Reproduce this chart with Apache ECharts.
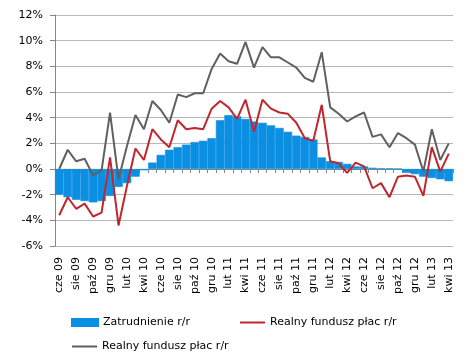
<!DOCTYPE html>
<html>
<head>
<meta charset="utf-8">
<script src="https://cdn.jsdelivr.net/npm/echarts@6/dist/echarts.min.js"></script>
<style>
html,body{margin:0;padding:0;background:#fff;}
#chart{width:468px;height:362px;}
</style>
</head>
<body>
<div id="chart"></div>
<script>
const categories = ['cze 09','lip 09','sie 09','wrz 09','paź 09','lis 09','gru 09',
  'sty 10','lut 10','mar 10','kwi 10','maj 10','cze 10','lip 10','sie 10','wrz 10','paź 10','lis 10','gru 10',
  'sty 11','lut 11','mar 11','kwi 11','maj 11','cze 11','lip 11','sie 11','wrz 11','paź 11','lis 11','gru 11',
  'sty 12','lut 12','mar 12','kwi 12','maj 12','cze 12','lip 12','sie 12','wrz 12','paź 12','lis 12','gru 12',
  'sty 13','lut 13','mar 13','kwi 13'];

const zatrudnienie = [-2.0,-2.2,-2.4,-2.5,-2.6,-2.5,-2.1,
  -1.4,-1.1,-0.6,-0.1,0.5,1.1,1.5,1.7,1.9,2.1,2.2,2.4,
  3.8,4.2,4.1,3.9,3.7,3.6,3.4,3.2,2.9,2.6,2.5,2.3,
  0.9,0.6,0.55,0.4,0.2,0.2,0.1,0.05,0.05,0.02,-0.3,-0.4,
  -0.6,-0.7,-0.8,-0.95];

const realnyRed = [-3.6,-2.2,-3.1,-2.7,-3.7,-3.4,0.9,
  -4.4,-1.3,1.6,0.7,3.1,2.3,1.7,3.8,3.1,3.2,3.1,4.7,
  5.3,4.8,3.9,5.4,2.9,5.4,4.7,4.4,4.3,3.6,2.4,2.2,
  5.0,0.6,0.45,-0.3,0.5,0.2,-1.5,-1.1,-2.2,-0.6,-0.5,-0.6,
  -2.1,1.7,-0.2,1.2];

const realnyGray = [0.0,1.5,0.6,0.8,-0.5,-0.1,4.4,
  -0.8,1.8,4.2,3.1,5.3,4.6,3.6,5.8,5.6,5.9,5.9,7.8,
  9.0,8.4,8.2,9.9,7.9,9.5,8.7,8.7,8.3,7.9,7.1,6.8,
  9.1,4.8,4.3,3.7,4.1,4.4,2.5,2.7,1.7,2.8,2.4,1.9,
  -0.2,3.1,0.7,2.0];

const yTicks = {min: -6, max: 12, interval: 2};

const nameBar = 'Zatrudnienie r/r';
const nameRed = 'Realny fundusz płac r/r';
const nameGray = 'Realny fundusz płac r/r ';

const FONT = 'DejaVu Sans';
const BLUE = '#0b8fe2';
const chart = echarts.init(document.getElementById('chart'), null, {renderer: 'canvas'});
const legendText = {fontFamily: FONT, fontSize: 11, color: '#000'};
chart.setOption({
  animation: false,
  grid: {left: 55, right: 15, top: 15, bottom: 116, containLabel: false},
  xAxis: [
    {
      type: 'category', data: categories, position: 'bottom',
      axisLine: {show: false, onZero: false},
      axisTick: {show: false},
      splitLine: {show: false},
      axisLabel: {interval: 1, rotate: 90, margin: 11, fontFamily: FONT, fontSize: 11, color: '#000'}
    },
    {
      type: 'category', data: categories, position: 'bottom',
      axisLine: {show: true, onZero: true, lineStyle: {color: '#868686', width: 1}},
      axisTick: {show: true, interval: 0, length: 4, lineStyle: {color: '#868686'}},
      axisLabel: {show: false},
      splitLine: {show: false}
    }
  ],
  yAxis: {
    type: 'value', min: yTicks.min, max: yTicks.max, interval: yTicks.interval,
    axisLine: {show: true, lineStyle: {color: '#868686'}},
    axisTick: {show: true, length: 5, lineStyle: {color: '#868686'}},
    splitLine: {show: true, lineStyle: {color: '#b8b8b8', width: 1}},
    axisLabel: {formatter: '{value}%', margin: 12, fontFamily: FONT, fontSize: 11, color: '#000'}
  },
  legend: [
    {data: [{name: nameBar, icon: 'rect'}], left: 66, top: 312, itemWidth: 26, itemHeight: 7,
      textStyle: legendText, selectedMode: false},
    {data: [{name: nameRed, icon: 'rect'}], left: 235, top: 312, itemWidth: 25, itemHeight: 2,
      textStyle: legendText, selectedMode: false},
    {data: [{name: nameGray, icon: 'rect'}], left: 67, top: 336, itemWidth: 25, itemHeight: 2,
      textStyle: legendText, selectedMode: false, formatter: n => n.trim()}
  ],
  series: [
    {name: nameBar, type: 'bar', data: zatrudnienie, xAxisIndex: 0, barCategoryGap: '0%',
      itemStyle: {color: BLUE, borderColor: BLUE, borderWidth: 0.6}},
    {name: nameRed, type: 'line', data: realnyRed, xAxisIndex: 0, symbol: 'none', showSymbol: false,
      lineStyle: {color: '#c0262d', width: 2}, itemStyle: {color: '#c0262d'}},
    {name: nameGray, type: 'line', data: realnyGray, xAxisIndex: 0, symbol: 'none', showSymbol: false,
      lineStyle: {color: '#606060', width: 2}, itemStyle: {color: '#606060'}}
  ]
});
</script>
</body>
</html>
